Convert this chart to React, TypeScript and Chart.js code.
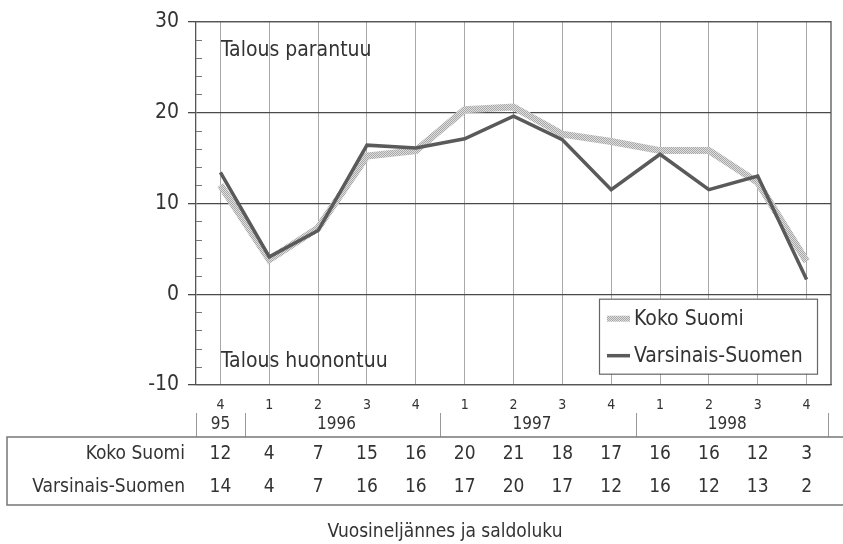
import React, { useEffect, useRef } from 'react';
import { Chart, registerables } from 'chart.js';
Chart.register(...registerables);

const quarters = ['4', '1', '2', '3', '4', '1', '2', '3', '4', '1', '2', '3', '4'];
const years = ['95', '1996', '1997', '1998'];
const yearSpans = [1, 4, 4, 4];
const seriesNames = ['Koko Suomi', 'Varsinais-Suomen'];
const kokoSuomi = [12.0, 3.8, 7.3, 15.2, 15.8, 20.3, 20.6, 17.6, 16.8, 15.8, 15.8, 12.3, 3.6];
const varsinaisSuomen = [13.4, 4.1, 7.0, 16.4, 16.1, 17.1, 19.6, 17.0, 11.5, 15.4, 11.5, 13.0, 1.6];
const kokoTable = [12, 4, 7, 15, 16, 20, 21, 18, 17, 16, 16, 12, 3];
const varsTable = [14, 4, 7, 16, 16, 17, 20, 17, 12, 16, 12, 13, 2];
const yMin = -10;
const yMax = 30;
const yStep = 10;
const annotations = ['Talous parantuu', 'Talous huonontuu'];
const axisTitle = 'Vuosineljännes ja saldoluku';

const FONT = '"Liberation Sans Narrow", "DejaVu Sans Condensed", "Arial Narrow", sans-serif';
const TEXT = '#333333';

function makePattern(): CanvasPattern | string {
  const c = document.createElement('canvas');
  c.width = 2;
  c.height = 2;
  const g = c.getContext('2d');
  if (!g) return '#c8c8c8';
  g.fillStyle = '#dedede';
  g.fillRect(0, 0, 2, 2);
  g.fillStyle = '#a8a8a8';
  g.fillRect(0, 0, 1, 1);
  g.fillRect(1, 1, 1, 1);
  const p = g.createPattern(c, 'repeat');
  return p || '#c8c8c8';
}

const decor = {
  id: 'decor',
  afterDraw(chart: any) {
    const { ctx, chartArea: ca, scales } = chart;
    const x = scales.x;
    const y = scales.y;
    ctx.save();
    // frame top & right
    ctx.strokeStyle = '#555';
    ctx.lineWidth = 1.3;
    ctx.beginPath();
    ctx.moveTo(ca.left, ca.top);
    ctx.lineTo(ca.right, ca.top);
    ctx.lineTo(ca.right, ca.bottom);
    ctx.stroke();
    // minor ticks
    ctx.strokeStyle = '#777';
    ctx.lineWidth = 1;
    for (let v = yMin; v <= yMax; v += 2) {
      if (v % 10 === 0) continue;
      const py = Math.round(y.getPixelForValue(v)) + 0.5;
      ctx.beginPath();
      ctx.moveTo(ca.left, py);
      ctx.lineTo(ca.left + 6, py);
      ctx.stroke();
    }
    // annotations
    ctx.fillStyle = TEXT;
    ctx.font = `21px ${FONT}`;
    ctx.textAlign = 'left';
    ctx.textBaseline = 'middle';
    ctx.fillText(annotations[0], ca.left + 25, y.getPixelForValue(26.8));
    ctx.fillText(annotations[1], ca.left + 25, y.getPixelForValue(-7.4));

    // legend
    const lx = ca.right - 232, ly = y.getPixelForValue(-0.5), lw = 218, lh = 75;
    ctx.fillStyle = '#fff';
    ctx.fillRect(lx, ly, lw, lh);
    ctx.strokeStyle = '#666';
    ctx.lineWidth = 1.2;
    ctx.strokeRect(lx + 0.5, ly + 0.5, lw, lh);
    const ds = chart.data.datasets;
    ds.forEach((d: any, k: number) => {
      const cy = ly + 20 + k * 37;
      ctx.strokeStyle = d.borderColor;
      ctx.lineWidth = k === 0 ? 6 : 3.5;
      ctx.beginPath();
      ctx.moveTo(lx + 8, cy);
      ctx.lineTo(lx + 31, cy);
      ctx.stroke();
      ctx.fillStyle = TEXT;
      ctx.font = `21px ${FONT}`;
      ctx.textAlign = 'left';
      ctx.textBaseline = 'middle';
      ctx.fillText(d.label, lx + 35, cy + 1);
    });

    // year row
    const px = (i: number) => x.getPixelForValue(i);
    const half = (px(1) - px(0)) / 2;
    ctx.strokeStyle = '#999';
    ctx.lineWidth = 1;
    let idx = 0;
    const sepTop = 413, sepBot = 437;
    const seps: number[] = [ca.left];
    years.forEach((yr, k) => {
      const span = yearSpans[k];
      const x0 = px(idx) - half;
      const x1 = px(idx + span - 1) + half;
      seps.push(k === years.length - 1 ? x1 - 3 : x1);
      ctx.fillStyle = TEXT;
      ctx.font = `17px ${FONT}`;
      ctx.textAlign = 'center';
      ctx.textBaseline = 'middle';
      const cx = span === 1 ? (x0 + x1) / 2 : (x0 + x1) / 2 - 6;
      ctx.fillText(yr, cx, 425);
      idx += span;
    });
    seps.forEach((sx) => {
      const xx = Math.round(sx) + 0.5;
      ctx.beginPath();
      ctx.moveTo(xx, sepTop);
      ctx.lineTo(xx, sepBot);
      ctx.stroke();
    });

    // table box
    ctx.strokeStyle = '#777';
    ctx.lineWidth = 1.5;
    ctx.beginPath();
    ctx.moveTo(843, 437);
    ctx.lineTo(7, 437);
    ctx.lineTo(7, 505);
    ctx.lineTo(843, 505);
    ctx.stroke();

    const rows = [kokoTable, varsTable];
    const rowY = [454, 487];
    rows.forEach((vals, r) => {
      ctx.fillStyle = TEXT;
      ctx.font = `19px ${FONT}`;
      ctx.textAlign = 'right';
      ctx.textBaseline = 'middle';
      ctx.fillText(seriesNames[r], 185, rowY[r]);
      ctx.font = `19px ${FONT}`;
      ctx.textAlign = 'center';
      vals.forEach((v, i) => ctx.fillText(String(v), px(i), rowY[r]));
    });

    // axis title
    ctx.font = `19px ${FONT}`;
    ctx.textAlign = 'center';
    ctx.fillText(axisTitle, 445, 532);
    ctx.restore();
  },
};

export default function App() {
  const ref = useRef<HTMLCanvasElement | null>(null);
  useEffect(() => {
    if (!ref.current) return;
    const pattern = makePattern();
    const chart = new Chart(ref.current, {
      type: 'line',
      data: {
        labels: quarters,
        datasets: [
          {
            label: seriesNames[0],
            data: kokoSuomi,
            borderColor: pattern as any,
            borderWidth: 7,
            pointRadius: 0,
            tension: 0,
            order: 1,
          },
          {
            label: seriesNames[1],
            data: varsinaisSuomen,
            borderColor: '#5a5a5a',
            borderWidth: 3.5,
            pointRadius: 0,
            tension: 0,
            order: 0,
          },
        ],
      },
      options: {
        animation: false,
        responsive: false,
        layout: { padding: { left: 0, top: 19, right: 12, bottom: 129 } },
        plugins: { legend: { display: false }, tooltip: { enabled: false } },
        scales: {
          x: {
            offset: true,
            afterFit: (s: any) => { s.height = 30; },
            grid: { offset: false, color: '#a8a8a8', lineWidth: 1, drawTicks: false },
            border: { display: true, color: '#555', width: 1.3 },
            ticks: {
              color: TEXT,
              font: { size: 14, family: FONT },
              padding: 12,
              maxRotation: 0,
              autoSkip: false,
              callback: (_v: any, i: number) => quarters[i],
            },
          },
          y: {
            min: yMin,
            max: yMax,
            afterFit: (s: any) => { s.width = 196; },
            grid: { color: '#4a4a4a', lineWidth: 1.3, drawTicks: true, tickLength: 8 },
            border: { display: true, color: '#555', width: 1.3 },
            ticks: {
              stepSize: yStep,
              color: TEXT,
              font: { size: 21, family: FONT },
              padding: 9,
            },
          },
        },
      },
      plugins: [decor],
    });
    return () => chart.destroy();
  }, []);
  return (
    <div style={{ position: 'fixed', left: 0, top: 0, width: 843, height: 544, background: '#fff' }}>
      <canvas ref={ref} width={843} height={544} />
    </div>
  );
}
